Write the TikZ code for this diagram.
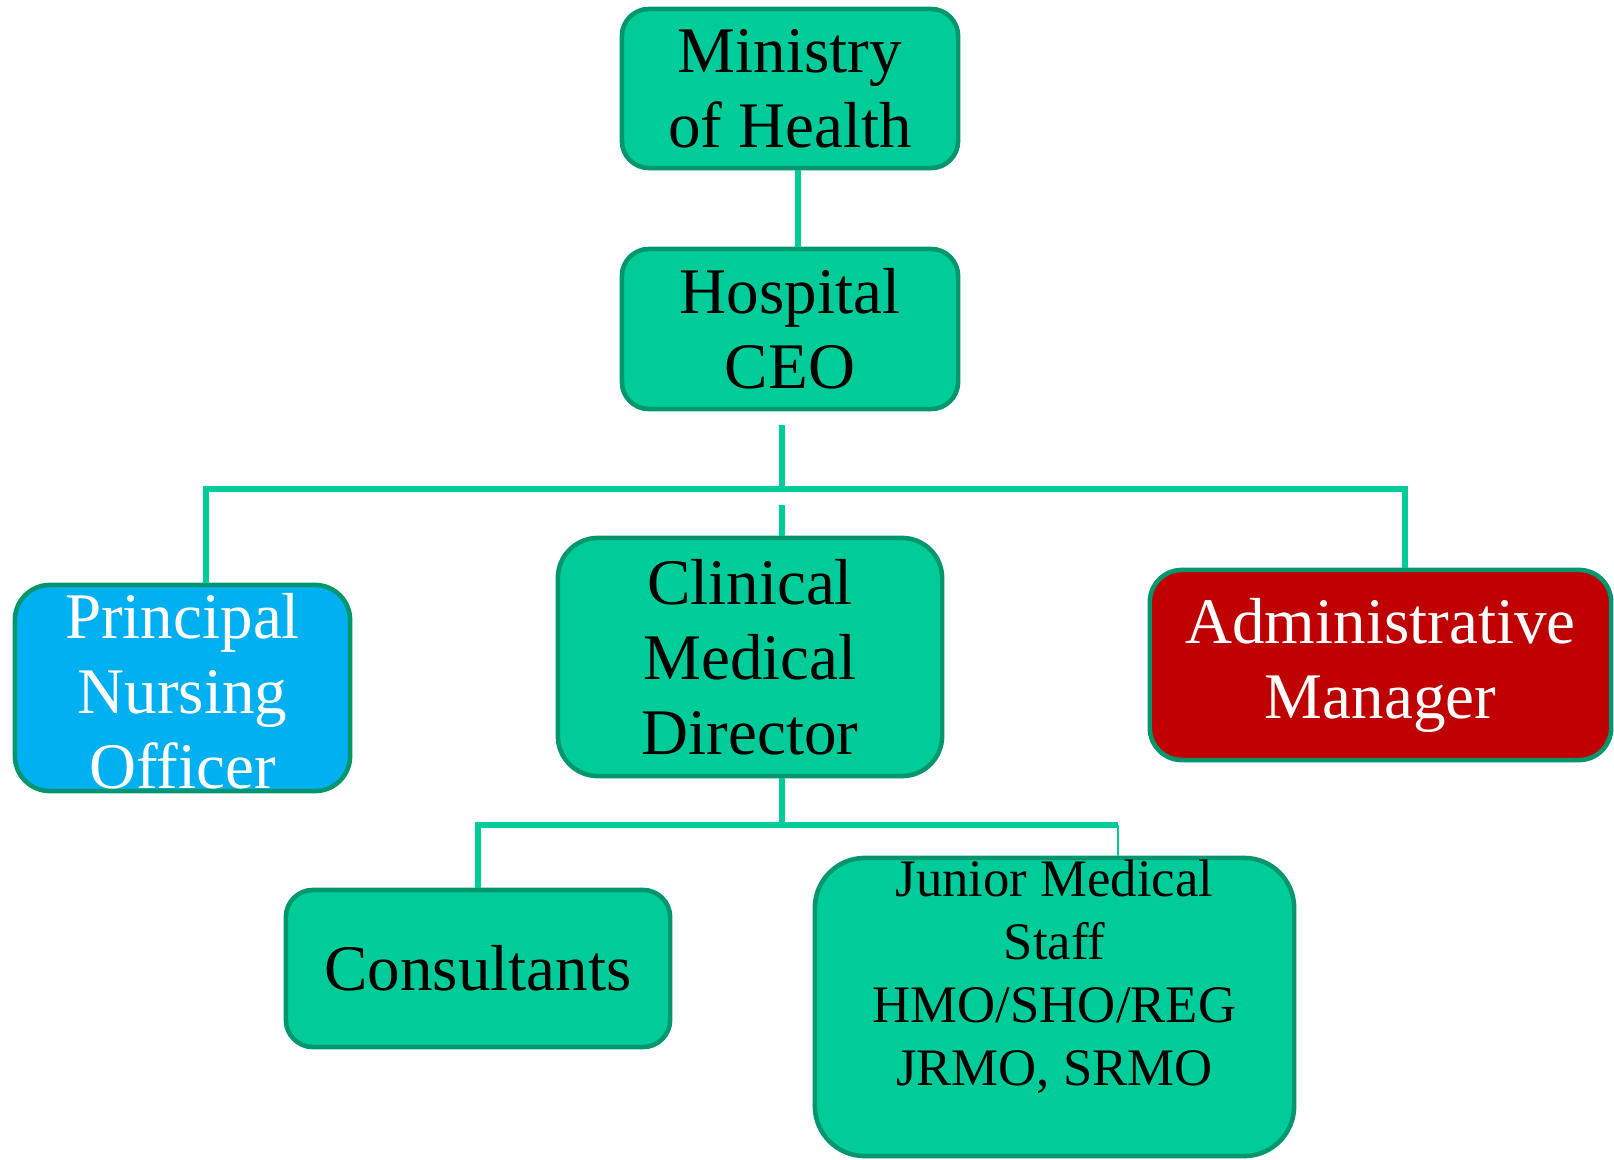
\documentclass[tikz,border=0pt]{standalone}
\usepackage{fontspec}
\setmainfont{Liberation Serif}
\definecolor{boxgreen}{HTML}{00CC99}
\definecolor{edgegreen}{HTML}{00966E}
\definecolor{linegreen}{HTML}{00CC99}
\definecolor{nurseblue}{HTML}{00B0F0}
\definecolor{adminred}{HTML}{C00000}

\begin{document}
\begin{tikzpicture}[x=0.01cm, y=-0.01cm,
	box/.style={draw=edgegreen, line width=1.3pt, fill=boxgreen, align=center, inner sep=0pt,
		font=\fontsize{18.5}{21.3}\selectfont},
	link/.style={draw=linegreen, line width=1.7pt},
	thinlink/.style={draw=linegreen, line width=0.6pt}]
			%%%%% START %%%%%
			\useasboundingbox (0, 0) rectangle (1614, 1160);
			
			\node[box, minimum width=3.36cm, minimum height=1.59cm, rounded corners=0.27cm] (moh) at (790, 88.5) {Ministry\\of Health};
			\node[box, minimum width=3.36cm, minimum height=1.6cm, rounded corners=0.27cm] (ceo) at (790, 329) {Hospital\\CEO};
			
			\node[box, fill=nurseblue, text=white, minimum width=3.35cm, minimum height=2.06cm, rounded corners=0.35cm,
				text height=57.5pt, text depth=0.6pt] (pno) at (182.5, 688) {Principal\\Nursing\\Officer};
			\node[box, minimum width=3.84cm, minimum height=2.38cm, rounded corners=0.4cm] (cmd) at (750, 657) {Clinical\\Medical\\Director};
			\node[box, fill=adminred, text=white, minimum width=4.61cm, minimum height=1.9cm, rounded corners=0.32cm] (adm) at (1380.5, 665) {Administrative\\Manager};
			
			\node[box, minimum width=3.84cm, minimum height=1.57cm, rounded corners=0.27cm] (con) at (478, 968.5) {Consultants};
			\node[box, font=\fontsize{15}{17.9}\selectfont, minimum width=4.79cm, minimum height=2.98cm, rounded corners=0.5cm,
				text height=45pt, text depth=0.6pt] (jms) at (1054.5, 1007) {Junior Medical\\Staff\\HMO/SHO/REG\\JRMO, SRMO};
			
			\coordinate (ceostub) at (782, 425);
			\coordinate (bus) at (782, 489);
			\coordinate (busL) at (206, 489);
			\coordinate (busR) at (1405, 489);
			\coordinate (cmdstub) at (782, 505);
			\coordinate (bus2) at (782, 825);
			\coordinate (bus2L) at (478, 825);
			\coordinate (bus2R) at (1118, 825);
			
			\draw[link] ([xshift=0.08cm]moh.south) -- ([xshift=0.08cm]ceo.north);
			\draw[link] (ceostub) -- (bus);
			\draw[link] (pno.north -| busL) -- (busL) -- (busR) -- (adm.north -| busR);
			\draw[link] (cmdstub) -- (cmd.north -| cmdstub);
			
			\draw[link] (cmd.south -| bus2) -- (bus2);
			\draw[link] (con.north -| bus2L) -- (bus2L) -- (bus2R);
			\draw[thinlink] (bus2R) -- (jms.north -| bus2R);
			%%%%% END %%%%%
\end{tikzpicture}
\end{document}
